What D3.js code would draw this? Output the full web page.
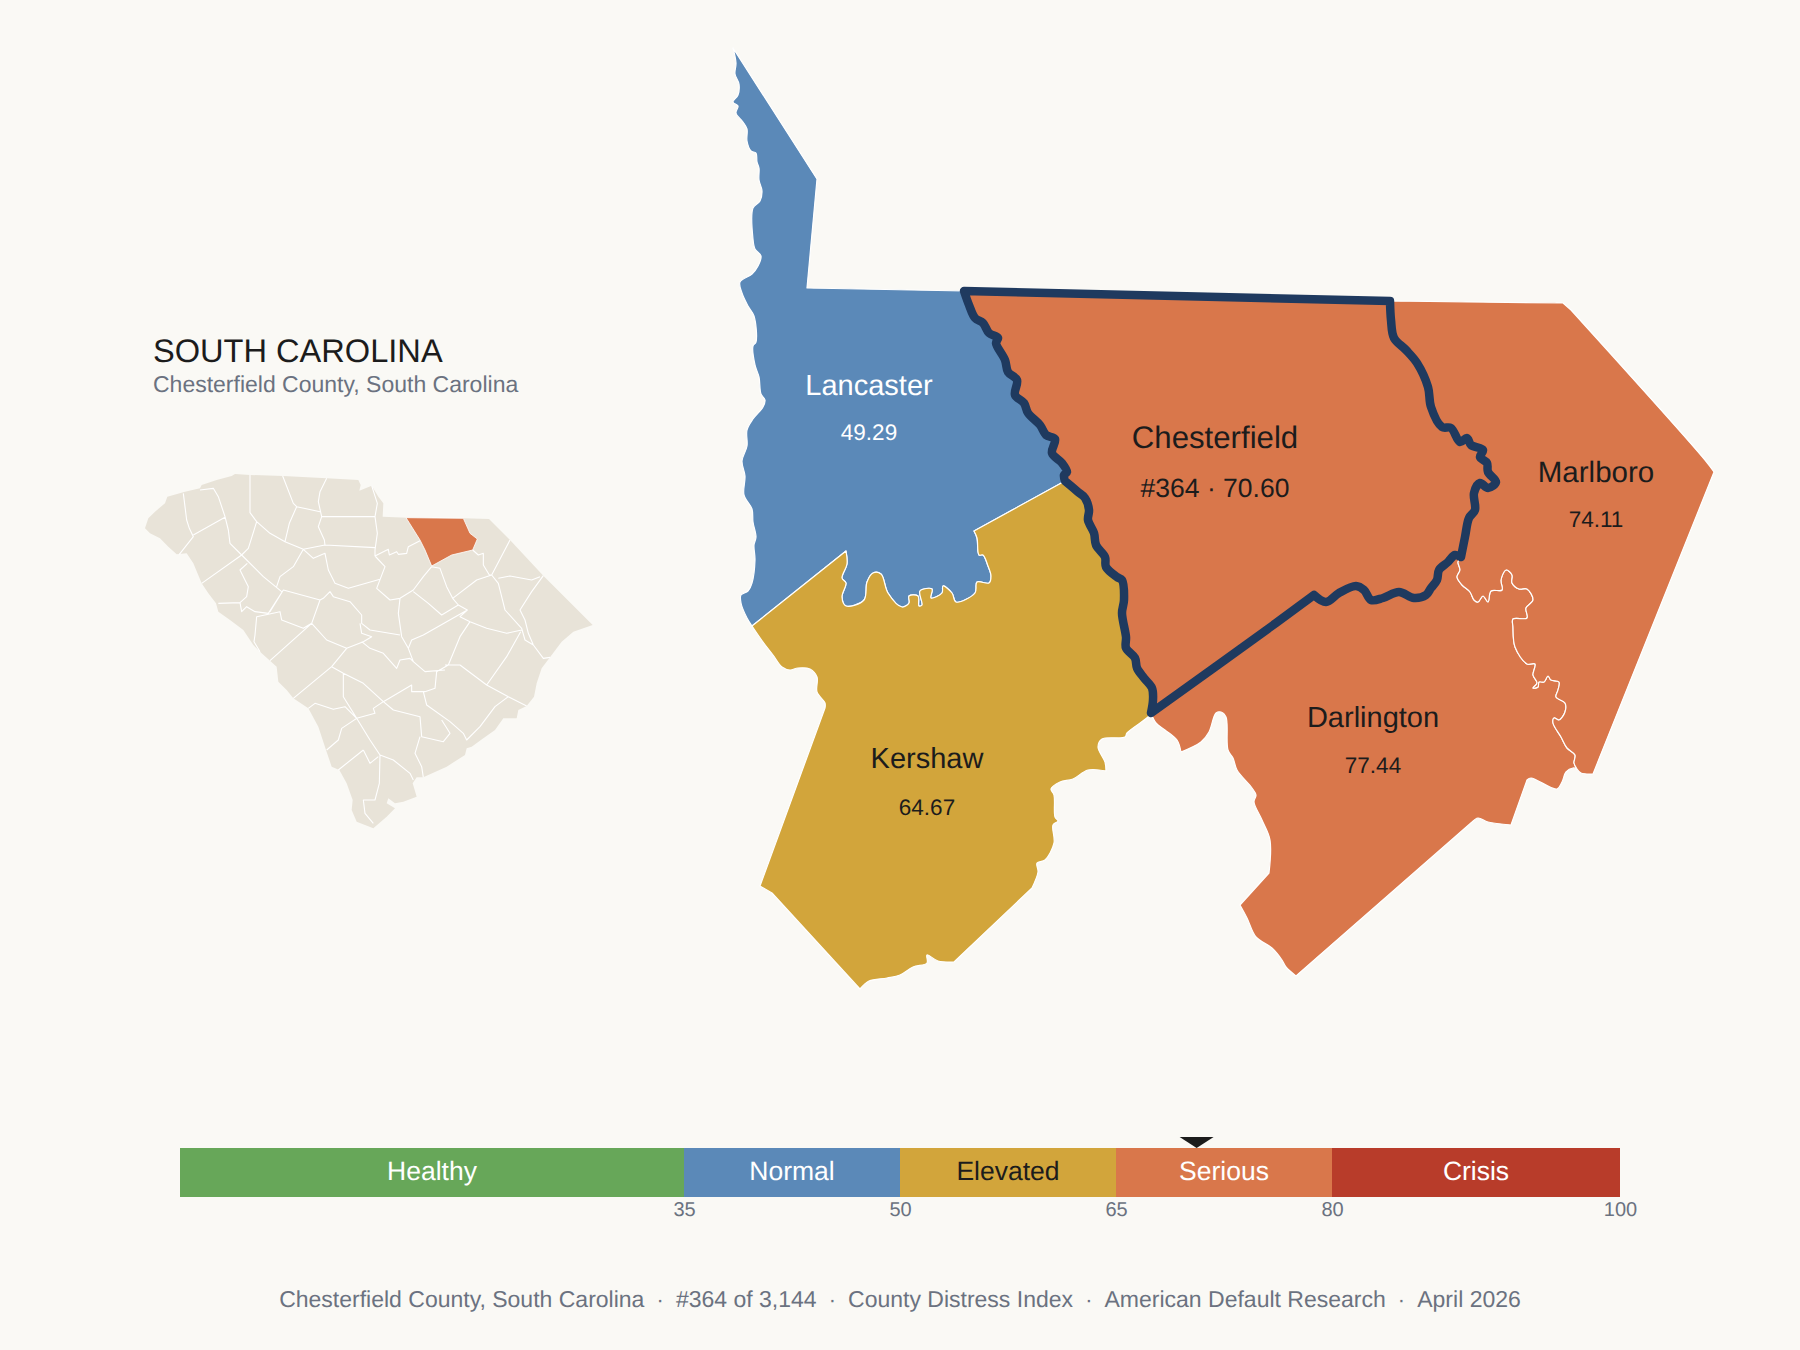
<!DOCTYPE html>
<html>
<head>
<meta charset="utf-8">
<title>Chesterfield County, South Carolina</title>
<script src="https://cdn.jsdelivr.net/npm/d3@7"></script>
<style>
    html, body { margin: 0; padding: 0; background: #faf9f5; }
    text { font-family: "Liberation Sans", Arial, sans-serif; text-rendering: geometricPrecision; }
</style>
</head>
<body>
<div id="main"></div>
<script>
// index values
var countyNames = ["Lancaster", "Kershaw", "Darlington", "Marlboro", "Chesterfield"];
var countyScores = [49.29, 64.67, 77.44, 74.11, 70.60];
var focusRank = 364;
var focusScore = 70.60;

// severity bands
var bandLabels = ["Healthy", "Normal", "Elevated", "Serious", "Crisis"];
var bandStops = [0, 35, 50, 65, 80, 100];
var bandColors = ["#67a759", "#5b89b8", "#d2a53b", "#d9774b", "#b83c2a"];
var bandTextColors = ["#ffffff", "#ffffff", "#1c1c1c", "#ffffff", "#ffffff"];
var tickValues = [35, 50, 65, 80, 100];

// county outlines, map grid units. a repeated point is a hard corner
var lancasterWest = [[13,8],[16,23],[15,34],[19,44],[18,55],[13,62],[18,66],[16,73],[23,82],[27,89],[27,101],[31,111],[36,113],[37,122],[39,128],[39,140],[42,151],[40,161],[33,168],[33,199],[35,209],[41,216],[38,226],[32,234],[20,242],[22,253],[28,266],[34,276],[36,302],[33,306],[35,325],[39,337],[41,354],[45,360],[43,367],[33,379],[27,390],[27,406],[22,421],[25,436],[24,455],[32,469],[33,482],[36,497],[34,505],[35,520],[32,543],[28,551],[21,555],[21,563],[27,578],[32,586]];
var lancasterKershaw = [[32,586],[126,511],[126,511],[127,524],[122,538],[126,543],[122,557],[126,566],[144,560],[147,542],[153,533],[161,534],[168,553],[182,567],[189,563],[189,556],[198,556],[199,566],[202,565],[200,551],[212,549],[211,558],[222,553],[223,546],[232,553],[236,562],[255,553],[257,542],[269,543],[271,536],[268,526],[263,515],[259,515],[257,498],[254,491],[254,491],[345,441]];
var lancasterNorth = [[244,251],[87,248],[87,248],[97,139],[97,139],[13,8]];
var chesterfieldNorth = [[670,261],[244,251],[244,251]];
var chesterfieldWestUpper = [[244,251],[249,265],[255,278],[263,283],[269,293],[278,298],[276,303],[285,320],[288,332],[297,340],[295,355],[304,363],[308,373],[320,385],[326,395],[335,399],[332,413],[342,423],[347,432],[344,435],[345,441]];
var chesterfieldWestLower = [[345,441],[358,452],[365,458],[369,470],[368,480],[374,493],[376,505],[385,517],[386,527],[397,537],[402,540],[404,560],[402,573],[406,597],[406,608],[415,618],[417,628],[424,638],[432,648],[433,660],[431,673]];
var chesterfieldSouth = [[431,673],[556,583],[594,555],[594,555],[606,562],[619,553],[636,546],[644,550],[651,560],[663,558],[679,552],[694,558],[706,555],[711,548],[717,540],[719,530],[728,522],[735,515],[741,517]];
var chesterfieldEast = [[741,517],[745,497],[749,478],[755,470],[754,453],[760,443],[768,448],[776,442],[768,432],[767,423],[760,417],[763,410],[751,405],[747,398],[740,402],[731,388],[722,387],[711,367],[708,347],[697,323],[686,310],[674,298],[671,280],[670,261]];
var marlboroOuter = [[670,261],[843,263],[843,263],[851,270],[851,270],[985,420],[994,432],[994,432],[873,734],[873,734],[861,733],[857,729]];
var marlboroDarlington = [[741,517],[738,522],[740,530],[737,537],[742,545],[750,552],[754,560],[758,562],[763,556],[768,562],[771,551],[782,550],[781,540],[786,530],[792,535],[792,543],[799,549],[807,549],[813,560],[806,568],[807,578],[793,579],[793,587],[795,607],[807,624],[815,624],[813,635],[817,643],[813,648],[818,647],[819,642],[824,642],[828,636],[831,640],[839,642],[838,650],[836,657],[845,663],[845,672],[839,680],[834,678],[833,683],[841,697],[847,708],[855,715],[854,723],[857,729]];
var darlingtonOuter = [[857,729],[853,728],[846,732],[842,742],[837,749],[811,738],[807,740],[807,740],[791,785],[791,785],[768,782],[758,778],[752,782],[752,782],[576,936],[576,936],[566,927],[562,920],[552,908],[536,897],[527,878],[520,865],[520,865],[549,833],[549,833],[550,800],[542,780],[534,762],[536,755],[532,748],[517,730],[513,718],[508,710],[506,677],[501,672],[496,673],[489,692],[481,702],[461,712],[461,712],[457,700],[445,690],[436,683],[431,673]];
var kershawOuter = [[32,586],[43,602],[53,615],[62,627],[70,630],[78,628],[90,629],[97,637],[97,652],[105,663],[105,668],[105,668],[40,846],[40,846],[52,853],[52,853],[140,949],[140,949],[149,941],[167,938],[180,935],[193,927],[207,923],[207,915],[218,921],[234,922],[234,922],[312,848],[312,848],[318,832],[317,823],[325,820],[334,803],[333,785],[338,781],[335,777],[334,755],[331,749],[340,742],[353,739],[368,730],[386,731],[386,731],[385,722],[378,707],[382,699],[405,697],[407,693],[428,677],[431,673]];

// state inset, its own grid units
var insetState = [[45,625],[55,595],[75,575],[105,550],[112,530],[165,515],[210,505],[215,495],[260,480],[305,468],[315,462],[360,465],[460,468],[590,475],[685,480],[692,495],[688,512],[725,497],[745,530],[760,550],[758,590],[830,593],[1000,595],[1077,597],[1140,660],[1240,767],[1388,915],[1330,935],[1295,965],[1260,1012],[1235,1045],[1220,1090],[1212,1130],[1190,1158],[1165,1170],[1160,1195],[1120,1195],[1095,1230],[1060,1255],[1025,1280],[1010,1285],[1005,1305],[950,1340],[880,1372],[860,1372],[848,1390],[860,1430],[820,1445],[795,1450],[775,1435],[770,1450],[795,1465],[770,1490],[730,1525],[680,1505],[665,1470],[668,1440],[650,1390],[628,1350],[605,1340],[588,1290],[565,1220],[535,1165],[490,1135],[470,1110],[445,1085],[440,1040],[420,1022],[395,1000],[370,975],[340,930],[300,900],[265,875],[258,850],[235,820],[215,790],[190,730],[170,700],[140,703],[115,680],[90,655],[60,640]];
var insetFocus = [[828,593],[1000,595],[1020,640],[1042,657],[1028,690],[965,705],[905,738],[885,690],[870,660]];
var insetCountyLines = [
    [[160,520],[170,600],[178,625],[190,650],[148,703]],
    [[190,645],[285,592]],
    [[210,510],[250,505],[265,530],[285,590],[295,630],[300,670],[335,705]],
    [[360,465],[360,578],[380,605],[420,640],[465,665]],
    [[458,468],[490,550],[500,560],[570,575]],
    [[590,475],[570,515],[565,545],[575,590],[565,620],[583,660],[585,675]],
    [[575,590],[735,590]],
    [[725,497],[742,550],[735,590],[742,640],[735,690],[735,708]],
    [[500,560],[478,610],[465,665],[520,688],[585,675]],
    [[585,675],[735,683]],
    [[520,688],[490,740],[450,770],[440,800]],
    [[380,605],[355,685],[335,705],[215,790]],
    [[335,705],[400,770],[455,815]],
    [[520,688],[550,715],[585,700],[595,750],[615,790],[655,805],[750,778]],
    [[735,708],[765,740],[740,805],[780,840],[810,835],[850,810],[880,770],[905,740]],
    [[735,708],[775,688],[778,705],[800,695],[805,703],[830,700],[835,680],[870,662]],
    [[1028,690],[1045,705],[1060,700],[1060,735],[1078,765],[1085,765]],
    [[1140,660],[1085,765]],
    [[905,740],[930,745],[950,800],[968,835],[1040,780],[1085,765]],
    [[850,815],[895,850],[935,885],[985,855],[968,835]],
    [[1085,765],[1105,790],[1115,830],[1125,870],[1175,925],[1185,960],[1210,975],[1240,1015],[1260,1012]],
    [[1105,775],[1140,768],[1205,780],[1230,770]],
    [[1240,767],[1205,815],[1170,870],[1185,900],[1195,940],[1210,975]],
    [[985,855],[1012,870],[990,890],[1020,905],[1070,925],[1130,940],[1175,930]],
    [[1172,935],[1130,1010],[1070,1095]],
    [[1012,870],[880,945],[845,960],[835,985]],
    [[810,835],[805,880],[815,950],[835,985],[850,1025],[885,1055],[945,1050]],
    [[1020,905],[990,950],[955,1035],[920,1055],[915,1105],[885,1115]],
    [[945,1035],[990,1035],[1070,1095],[1135,1130],[1190,1158]],
    [[1135,1130],[1095,1160],[1050,1220],[1010,1260],[1000,1240],[960,1205],[890,1155],[880,1115]],
    [[885,1115],[845,1115],[845,1095],[760,1145],[730,1165],[735,1180],[680,1195],[635,1225],[625,1260],[590,1290]],
    [[760,1145],[790,1170],[870,1190],[875,1250],[940,1265],[960,1240],[935,1200]],
    [[870,1250],[855,1300],[875,1340],[880,1372]],
    [[680,1195],[720,1260],[750,1305],[790,1320],[840,1360],[850,1380]],
    [[750,1305],[748,1390],[735,1440],[700,1440],[705,1480],[730,1510]],
    [[700,1290],[625,1350]],
    [[700,1290],[720,1330],[745,1310]],
    [[535,1165],[555,1150],[610,1168],[645,1160],[680,1195]],
    [[490,1135],[605,1040],[650,985],[700,965],[725,950],[695,940],[690,910]],
    [[420,1022],[545,910],[520,925],[455,900],[450,875],[380,890],[375,945],[372,965],[390,995]],
    [[545,910],[570,840],[460,810],[420,875]],
    [[352,730],[330,750],[355,800],[350,830],[330,848],[265,850]],
    [[330,848],[335,875],[350,860],[375,875],[415,880],[460,810]],
    [[545,910],[590,960],[650,985]],
    [[570,840],[580,835],[600,815],[610,830],[660,845],[695,885],[695,910],[720,930],[810,945]],
    [[605,1040],[640,1060],[700,1090],[760,1145]],
    [[640,1060],[640,1130],[680,1195]],
    [[695,965],[720,985],[760,1000],[800,1045],[810,1020],[840,1015],[850,1025]]
];

(function () {

    var width = 1800, height = 1350;
    var ink = "#1c1c1c", grey = "#6b7280", navy = "#1f3a5f", land = "#e8e3d8";

    var bandOf = d3.scaleThreshold().domain(bandStops.slice(1, 5)).range(d3.range(5));

    function rev(a) { return a.slice().reverse(); }

    var shapes = {
        "Lancaster": [].concat(lancasterWest, lancasterKershaw, rev(chesterfieldWestUpper), lancasterNorth),
        "Kershaw": [].concat(lancasterKershaw, chesterfieldWestLower, rev(kershawOuter)),
        "Darlington": [].concat(chesterfieldSouth, marlboroDarlington, darlingtonOuter),
        "Marlboro": [].concat(chesterfieldEast, marlboroOuter, rev(marlboroDarlington)),
        "Chesterfield": [].concat(chesterfieldWestUpper, chesterfieldWestLower, chesterfieldSouth, chesterfieldEast, chesterfieldNorth)
    };

    // name and value sit inside the county
    var labelPos = {
        "Lancaster": [869, 395, 440, 29, 22.5],
        "Kershaw": [927, 768, 815, 29, 22.5],
        "Darlington": [1373, 727, 773, 29, 22.5],
        "Marlboro": [1596, 482, 527, 29.5, 22.5],
        "Chesterfield": [1215, 448, 497, 31.2, 26.5]
    };

    var svg = d3.select("#main").append("svg")
        .attr("width", width)
        .attr("height", height)
        .style("display", "block");

    svg.append("rect").attr("width", width).attr("height", height).attr("fill", "#faf9f5");

    // main map
    var mapX = d3.scaleLinear().domain([0, 1080]).range([720, 1800]);
    var mapY = d3.scaleLinear().domain([0, 1000]).range([40, 1040]);
    var outline = d3.line()
        .x(function (d) { return mapX(d[0]); })
        .y(function (d) { return mapY(d[1]); })
        .curve(d3.curveCatmullRom.alpha(0.5));

    var g = svg.append("g");

    g.selectAll("path.county")
        .data(countyNames)
        .enter().append("path")
        .attr("class", "county")
        .attr("d", function (d) { return outline(shapes[d].concat([shapes[d][0]])) + "Z"; })
        .attr("fill", function (d, i) { return bandColors[bandOf(countyScores[i])]; })
        .attr("stroke", "#ffffff")
        .attr("stroke-width", 1.2)
        .attr("stroke-linejoin", "round");

    g.append("path")
        .attr("d", outline(shapes["Chesterfield"]) + "Z")
        .attr("fill", "none")
        .attr("stroke", navy)
        .attr("stroke-width", 8.5)
        .attr("stroke-linejoin", "round");

    countyNames.forEach(function (name, i) {
        var p = labelPos[name];
        var band = bandOf(countyScores[i]);
        var color = band === 1 ? "#ffffff" : ink;
        var value = name === "Chesterfield"
            ? "#" + focusRank + " · " + d3.format(".2f")(focusScore)
            : d3.format(".2f")(countyScores[i]);
        g.append("text").attr("x", p[0]).attr("y", p[1]).attr("text-anchor", "middle")
            .attr("font-size", p[3]).attr("fill", color).text(name);
        g.append("text").attr("x", p[0]).attr("y", p[2]).attr("text-anchor", "middle")
            .attr("font-size", p[4]).attr("fill", color).text(value);
    });

    // title block
    svg.append("text").attr("x", 153).attr("y", 362).attr("font-size", 32.6).attr("fill", ink)
        .text("SOUTH CAROLINA");
    svg.append("text").attr("x", 153).attr("y", 392).attr("font-size", 23).attr("fill", grey)
        .text("Chesterfield County, South Carolina");

    // state inset
    var insetPath = d3.geoPath(d3.geoIdentity().scale(1 / 3).translate([130, 320]));
    var inset = svg.append("g");

    inset.append("path")
        .attr("d", insetPath({type: "Polygon", coordinates: [insetState.concat([insetState[0]])]}))
        .attr("fill", land);

    inset.append("path")
        .attr("d", insetPath({type: "MultiLineString", coordinates: insetCountyLines}))
        .attr("fill", "none")
        .attr("stroke", "#ffffff")
        .attr("stroke-width", 1.1)
        .attr("stroke-linejoin", "round");

    inset.append("path")
        .attr("d", insetPath({type: "Polygon", coordinates: [insetFocus.concat([insetFocus[0]])]}))
        .attr("fill", bandColors[bandOf(focusScore)])
        .attr("stroke", "#ffffff")
        .attr("stroke-width", 0.8);

    // severity bar
    var x = d3.scaleLinear().domain([0, 100]).range([180, 1620]);
    var barTop = 1148, barH = 49;
    var bar = svg.append("g");

    bar.selectAll("rect")
        .data(bandLabels)
        .enter().append("rect")
        .attr("x", function (d, i) { return x(bandStops[i]); })
        .attr("y", barTop)
        .attr("width", function (d, i) { return x(bandStops[i + 1]) - x(bandStops[i]); })
        .attr("height", barH)
        .attr("fill", function (d, i) { return bandColors[i]; });

    bar.selectAll("text.band")
        .data(bandLabels)
        .enter().append("text")
        .attr("class", "band")
        .attr("x", function (d, i) { return (x(bandStops[i]) + x(bandStops[i + 1])) / 2; })
        .attr("y", barTop + 31.5)
        .attr("text-anchor", "middle")
        .attr("font-size", 26.5)
        .attr("fill", function (d, i) { return bandTextColors[i]; })
        .text(function (d) { return d; });

    var axis = d3.axisBottom(x).tickValues(tickValues).tickSize(0).tickPadding(0);
    var axisG = svg.append("g").attr("transform", "translate(0," + (barTop + barH) + ")").call(axis);
    axisG.select(".domain").remove();
    axisG.selectAll("text")
        .attr("font-size", 20)
        .attr("font-family", "Liberation Sans, Arial, sans-serif")
        .attr("fill", grey)
        .attr("dy", null)
        .attr("y", 19);

    // marker over the score
    var mx = x(focusScore);
    svg.append("path")
        .attr("d", d3.line()([[mx - 17, barTop - 11], [mx + 17, barTop - 11], [mx, barTop]]) + "Z")
        .attr("fill", ink);

    // footer
    var footerBits = ["Chesterfield County, South Carolina", "#364 of 3,144", "County Distress Index", "American Default Research", "April 2026"];
    var footer = svg.append("text")
        .attr("x", 900).attr("y", 1307).attr("text-anchor", "middle")
        .attr("font-size", 23).attr("fill", grey);

    footerBits.forEach(function (bit, i) {
        if (i > 0) footer.append("tspan").attr("font-size", 21.8).text("\u00a0\u00a0·\u00a0\u00a0");
        footer.append("tspan").text(bit);
    });

})();
</script>
</body>
</html>
